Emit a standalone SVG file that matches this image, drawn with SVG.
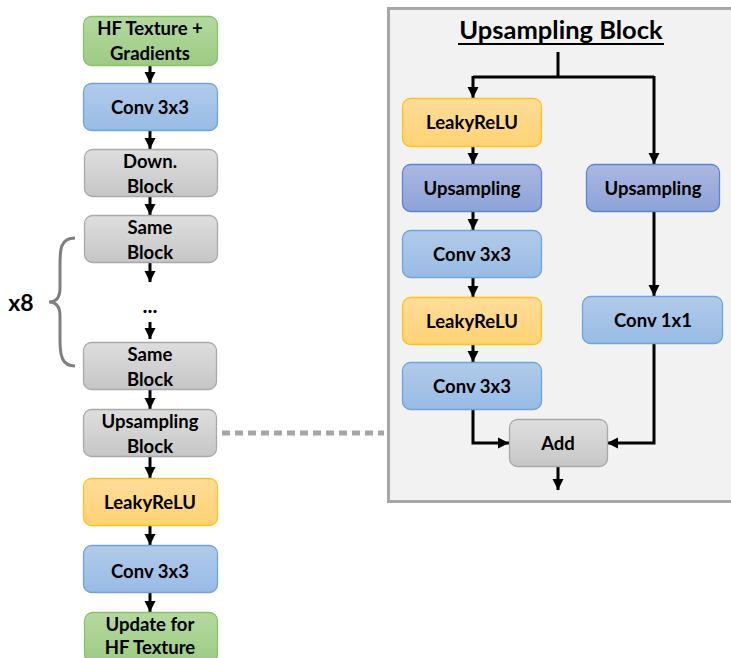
<svg xmlns="http://www.w3.org/2000/svg" width="731" height="658" viewBox="0 0 731 658">
<defs>
<linearGradient id="gGreen" x1="0" y1="0" x2="0" y2="1"><stop offset="0" stop-color="#b5d9a0"/><stop offset="1" stop-color="#9dcb83"/></linearGradient>
<linearGradient id="gBlue" x1="0" y1="0" x2="0" y2="1"><stop offset="0" stop-color="#b1cbe9"/><stop offset="1" stop-color="#98bbe5"/></linearGradient>
<linearGradient id="gGray" x1="0" y1="0" x2="0" y2="1"><stop offset="0" stop-color="#dedede"/><stop offset="1" stop-color="#c6c6c6"/></linearGradient>
<linearGradient id="gOrange" x1="0" y1="0" x2="0" y2="1"><stop offset="0" stop-color="#ffdc99"/><stop offset="1" stop-color="#ffd274"/></linearGradient>
<linearGradient id="gPurple" x1="0" y1="0" x2="0" y2="1"><stop offset="0" stop-color="#aab8e2"/><stop offset="1" stop-color="#8ea2d8"/></linearGradient>
<marker id="arr" markerUnits="userSpaceOnUse" markerWidth="13" markerHeight="12" refX="11" refY="6" orient="auto">
<path d="M0,0.5 L11,6 L0,11.5 Z" fill="#000"/>
</marker>
</defs>
<style>
.t{font-family:Lato,"Open Sans","Liberation Sans",sans-serif;font-weight:bold;font-size:18.5px;fill:#000;text-anchor:middle}
.green{fill:url(#gGreen);stroke:#8cc06a;stroke-width:1.3}
.blue{fill:url(#gBlue);stroke:#6fa3dc;stroke-width:1.3}
.gray{fill:url(#gGray);stroke:#a9a9a9;stroke-width:1.3}
.orange{fill:url(#gOrange);stroke:#ffc21a;stroke-width:1.3}
.purple{fill:url(#gPurple);stroke:#5f83cf;stroke-width:1.3}
.c{fill:none;stroke:#000;stroke-width:3}
</style>

<rect x="388.5" y="8.5" width="345" height="493" fill="#f2f2f2" stroke="#a6a6a6" stroke-width="3"/>
<text x="561" y="39" class="t" style="font-size:25.5px">Upsampling Block</text>
<line x1="458" y1="44" x2="664" y2="44" stroke="#000" stroke-width="1.8"/>

<g id="connectors">
<line class="c" x1="150" y1="65" x2="150" y2="83" marker-end="url(#arr)"/>
<line class="c" x1="150" y1="131" x2="150" y2="149" marker-end="url(#arr)"/>
<line class="c" x1="150" y1="197" x2="150" y2="215" marker-end="url(#arr)"/>
<line class="c" x1="150" y1="263" x2="150" y2="282" marker-end="url(#arr)"/>
<line class="c" x1="150" y1="322" x2="150" y2="339" marker-end="url(#arr)"/>
<line class="c" x1="150" y1="390" x2="150" y2="409" marker-end="url(#arr)"/>
<line class="c" x1="150" y1="457" x2="150" y2="478" marker-end="url(#arr)"/>
<line class="c" x1="150" y1="526" x2="150" y2="545" marker-end="url(#arr)"/>
<line class="c" x1="150" y1="593" x2="150" y2="612" marker-end="url(#arr)"/>
<line x1="222" y1="433" x2="384" y2="433" stroke="#a6a6a6" stroke-width="5" stroke-dasharray="8,5"/>
<path class="c" d="M558,52 V77"/>
<path class="c" d="M473,77 H654"/>
<line class="c" x1="473" y1="76" x2="473" y2="98" marker-end="url(#arr)"/>
<line class="c" x1="654" y1="76" x2="654" y2="164" marker-end="url(#arr)"/>
<line class="c" x1="473" y1="147" x2="473" y2="164" marker-end="url(#arr)"/>
<line class="c" x1="473" y1="212" x2="473" y2="230" marker-end="url(#arr)"/>
<line class="c" x1="473" y1="278" x2="473" y2="297" marker-end="url(#arr)"/>
<line class="c" x1="473" y1="344" x2="473" y2="362" marker-end="url(#arr)"/>
<line class="c" x1="654" y1="212" x2="654" y2="296" marker-end="url(#arr)"/>
<polyline class="c" points="473,410 473,443 509,443" marker-end="url(#arr)"/>
<polyline class="c" points="654,343 654,443 607,443" marker-end="url(#arr)"/>
<line class="c" x1="558" y1="467" x2="558" y2="490" marker-end="url(#arr)"/>
</g>

<g id="brace">
<path d="M75,238 C60,238 60,250 60,265 L60,288 C60,298 56,302 49,302 C56,302 60,306 60,316 L60,340 C60,356 62,366 75,366" fill="none" stroke="#7f7f7f" stroke-width="3"/>
<text x="21" y="311" class="t" style="font-size:23px">x8</text>
</g>

<g id="n1"><rect class="green" x="83.5" y="16.5" width="134" height="49" rx="8"/><text class="t" x="150" y="34.5">HF Texture +</text><text class="t" x="150" y="59.5">Gradients</text></g>
<g id="n2"><rect class="blue" x="83.5" y="83.5" width="134" height="47" rx="8"/><text class="t" x="150" y="113.5">Conv 3x3</text></g>
<g id="n3"><rect class="gray" x="84.5" y="149.5" width="133" height="47" rx="8"/><text class="t" x="150" y="167.5">Down.</text><text class="t" x="150" y="192.5">Block</text></g>
<g id="n4"><rect class="gray" x="84.5" y="215.5" width="133" height="47" rx="8"/><text class="t" x="150" y="233.5">Same</text><text class="t" x="150" y="258.5">Block</text></g>
<g id="n5"><text class="t" x="150" y="313" style="font-size:21px">...</text></g>
<g id="n6"><rect class="gray" x="83.5" y="342.5" width="133" height="47" rx="8"/><text class="t" x="150" y="360.5">Same</text><text class="t" x="150" y="385.5">Block</text></g>
<g id="n7"><rect class="gray" x="83.5" y="409.5" width="133" height="47" rx="8"/><text class="t" x="150" y="427.5">Upsampling</text><text class="t" x="150" y="452.5">Block</text></g>
<g id="n8"><rect class="orange" x="83.5" y="478.5" width="134" height="47" rx="8"/><text class="t" x="150" y="508.5">LeakyReLU</text></g>
<g id="n9"><rect class="blue" x="83.5" y="545.5" width="134" height="47" rx="8"/><text class="t" x="150" y="577.5">Conv 3x3</text></g>
<g id="n10"><rect class="green" x="84.5" y="612.5" width="133" height="50" rx="8"/><text class="t" x="150" y="630.5">Update for</text><text class="t" x="150" y="654">HF Texture</text></g>

<g id="u1"><rect class="orange" x="402.5" y="98.5" width="139" height="48" rx="8"/><text class="t" x="472" y="129">LeakyReLU</text></g>
<g id="u2"><rect class="purple" x="402.5" y="164.5" width="139" height="47" rx="8"/><text class="t" x="472" y="195">Upsampling</text></g>
<g id="u3"><rect class="blue" x="402.5" y="230.5" width="139" height="47" rx="8"/><text class="t" x="472" y="261">Conv 3x3</text></g>
<g id="u4"><rect class="orange" x="402.5" y="297.5" width="139" height="47" rx="8"/><text class="t" x="472" y="327.5">LeakyReLU</text></g>
<g id="u5"><rect class="blue" x="402.5" y="362.5" width="139" height="47" rx="8"/><text class="t" x="472" y="393">Conv 3x3</text></g>
<g id="u6"><rect class="purple" x="586.5" y="164.5" width="133" height="47" rx="8"/><text class="t" x="653" y="195">Upsampling</text></g>
<g id="u7"><rect class="blue" x="582.5" y="296.5" width="140" height="47" rx="8"/><text class="t" x="653" y="327">Conv 1x1</text></g>
<g id="u8"><rect class="gray" x="509.5" y="419.5" width="98" height="47" rx="8"/><text class="t" x="558" y="450">Add</text></g>
</svg>
